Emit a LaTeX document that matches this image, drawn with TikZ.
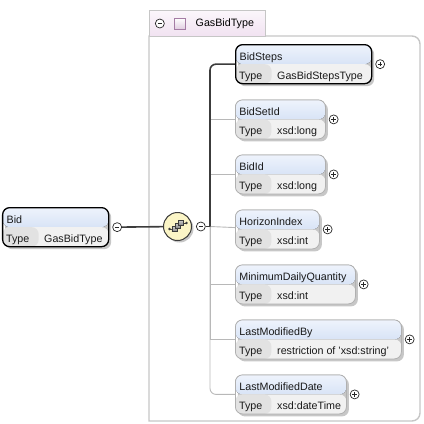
\documentclass[tikz,border=0pt]{standalone}
\usepackage{fontspec}
\setmainfont{Liberation Sans}
\usepackage{tikz}
\usetikzlibrary{shapes,arrows,positioning,calc,shadows}

\definecolor{hdtop}{HTML}{EEF3FC}
\definecolor{hdbot}{HTML}{C2D4F0}
\definecolor{rowgray}{HTML}{F1F1F1}
\definecolor{cellgray}{HTML}{E2E2E2}
\definecolor{boxgray}{HTML}{B0B0B0}
\definecolor{framegray}{HTML}{C6C6C6}
\definecolor{tabtop}{HTML}{FBF6FB}
\definecolor{tabpink}{HTML}{F1E2F1}
\definecolor{iconpurple}{HTML}{A57CA5}
\definecolor{seqyellow}{HTML}{FBF5C6}
\definecolor{linedark}{HTML}{3C3C3C}
\definecolor{linegray}{HTML}{B8B8B8}

\begin{document}
\begin{tikzpicture}[x=1pt, y=-1pt, node distance=15.2pt]
\tikzset{
elem/.style     = {draw=boxgray, line width=0.8pt, rounded corners=7pt, anchor=north west,
                   inner xsep=4pt, inner ysep=0pt, text height=15.5pt, text depth=23.5pt, align=left,
                   font=\fontsize{10.7}{12}\selectfont, text=black!90,
                   drop shadow={shadow xshift=2.5pt, shadow yshift=-2.5pt, fill=black!22, opacity=1},
                   path picture={
                     \fill[top color=hdtop, bottom color=hdbot] (path picture bounding box.north west) rectangle (path picture bounding box.east);
                     \fill[rowgray] (path picture bounding box.west) rectangle (path picture bounding box.south east);
                     \fill[cellgray] (path picture bounding box.west) rectangle ([xshift=36pt]path picture bounding box.south west);
                   }},
typerow/.style  = {anchor=base west, xshift=4pt, yshift=5pt, inner sep=0pt, label distance=0pt,
                   font=\fontsize{10.7}{12}\selectfont, text=black!90,
                   execute at begin node={\makebox[38pt][l]{Type}}},
boldelem/.style = {draw=black, line width=1.3pt},
pmbtn/.style    = {circle, draw=black!85, line width=0.7pt, fill=white, inner sep=0pt, minimum size=9pt},
plusbtn/.style  = {pmbtn, path picture={
                     \draw[line width=0.7pt] ([xshift=-2.3pt]path picture bounding box.center) -- ([xshift=2.3pt]path picture bounding box.center)
                                             ([yshift=-2.3pt]path picture bounding box.center) -- ([yshift=2.3pt]path picture bounding box.center);}},
minusbtn/.style = {pmbtn, path picture={
                     \draw[line width=0.7pt] ([xshift=-2.3pt]path picture bounding box.center) -- ([xshift=2.3pt]path picture bounding box.center);}},
seq/.style      = {circle, draw=linedark, line width=1pt, minimum size=28pt, inner sep=0pt, fill=seqyellow,
                   drop shadow={shadow xshift=2pt, shadow yshift=-2pt, fill=black!22, opacity=1},
                   path picture={
                     \draw[linedark, line width=0.8pt] ([shift={(-8,2.5)}]path picture bounding box.center) -- ([shift={(-3,2.5)}]path picture bounding box.center);
                     \draw[linedark, line width=0.8pt] ([shift={(3.5,-3.5)}]path picture bounding box.center) -- ([shift={(9,-3.5)}]path picture bounding box.center);
                     \fill[linedark] ([shift={(-8,2.5)}]path picture bounding box.center) circle (1.3pt);
                     \fill[linedark] ([shift={(9,-3.5)}]path picture bounding box.center) circle (1.3pt);
                     \foreach \dx/\dy in {-3/2.5, 0.3/-0.7, 3.5/-3.5}
                       \draw[linedark, line width=0.6pt, top color=black!20, bottom color=black!50]
                         ([shift={(\dx-2.7,\dy-2.7)}]path picture bounding box.center) rectangle ([shift={(\dx+2.7,\dy+2.7)}]path picture bounding box.center);
                   }},
tab/.style      = {draw=framegray, line width=1pt, top color=tabtop, bottom color=tabpink, anchor=north west,
                   minimum width=116pt, minimum height=26pt, inner sep=0pt},
typeicon/.style = {draw=iconpurple, line width=0.8pt, top color=white, bottom color=tabpink!80!iconpurple,
                   minimum size=11pt, inner sep=0pt},
mainline/.style = {draw=linedark, line width=1.6pt},
subline/.style  = {draw=linegray, line width=0.9pt},
}
    \useasboundingbox (0,0) rectangle (424,424);

    % Complex type frame
    \draw[framegray, line width=1.4pt] (149,36) [rounded corners=8pt] -- (420,36) -- (420,421) [sharp corners] -- (149,421) -- cycle;
    \node [tab]                              (gbt_tab)  at (149,10) {};
    \node [minusbtn, right=6pt of gbt_tab.west] (gbt_pm)  {};
    \node [typeicon, right=9pt of gbt_pm]    (gbt_icon) {};
    \node [right=10pt of gbt_icon, inner sep=0pt, font=\fontsize{10.7}{12}\selectfont] (gbt_name) {GasBidType};

    % Root element
    \node [elem, boldelem, text width=98pt, label={[typerow]south west:GasBidType}] (bid) at (2,207) {Bid};
    \node [minusbtn, right=3pt of bid]       (bid_pm)   {};

    % Sequence
    \node [seq]                              (seq)      at (177.5,226.5) {};
    \node [minusbtn, right=4pt of seq]       (seq_pm)   {};
    \coordinate                              (branch)   at (210,226.5);

    % Child elements
    \node [elem, boldelem, text width=128pt, label={[typerow]south west:GasBidStepsType}] (bidsteps) at (235,44) {BidSteps};
    \node [elem, text width=82pt, below=of bidsteps.south west, anchor=north west,
           label={[typerow]south west:xsd:long}]                    (bidsetid)    {BidSetId};
    \node [elem, text width=82pt, below=of bidsetid.south west, anchor=north west,
           label={[typerow]south west:xsd:long}]                    (bidid)       {BidId};
    \node [elem, text width=76pt, below=of bidid.south west, anchor=north west,
           label={[typerow]south west:xsd:int}]                     (horizon)     {HorizonIndex};
    \node [elem, text width=112pt, below=of horizon.south west, anchor=north west,
           label={[typerow]south west:xsd:int}]                     (mindaily)    {MinimumDailyQuantity};
    \node [elem, text width=158pt, below=of mindaily.south west, anchor=north west,
           label={[typerow]south west:restriction of 'xsd:string'}] (lastmodby)   {LastModifiedBy};
    \node [elem, text width=103pt, below=of lastmodby.south west, anchor=north west,
           label={[typerow]south west:xsd:dateTime}]                (lastmoddate) {LastModifiedDate};

    % Expand buttons
    \node [plusbtn, right=3pt of bidsteps]    (bidsteps_pm)    {};
    \node [plusbtn, right=3pt of bidsetid]    (bidsetid_pm)    {};
    \node [plusbtn, right=3pt of bidid]       (bidid_pm)       {};
    \node [plusbtn, right=3pt of horizon]     (horizon_pm)     {};
    \node [plusbtn, right=3pt of mindaily]    (mindaily_pm)    {};
    \node [plusbtn, right=3pt of lastmodby]   (lastmodby_pm)   {};
    \node [plusbtn, right=3pt of lastmoddate] (lastmoddate_pm) {};

    % Branch edges
    \draw [subline]                     (branch) |- (bidsetid);
    \draw [subline]                     (branch) |- (bidid);
    \draw [subline]                     (branch) -- (horizon);
    \draw [subline]                     (branch) |- (mindaily);
    \draw [subline]                     (branch) |- (lastmodby);
    \draw [subline, rounded corners=6pt] (branch) |- (lastmoddate);
    \draw [mainline]                    (bid_pm) -- (seq);
    \draw [mainline]                    (seq_pm) -- (branch);
    \draw [mainline, rounded corners=6pt] (branch) |- (bidsteps);

\end{tikzpicture}
\end{document}
